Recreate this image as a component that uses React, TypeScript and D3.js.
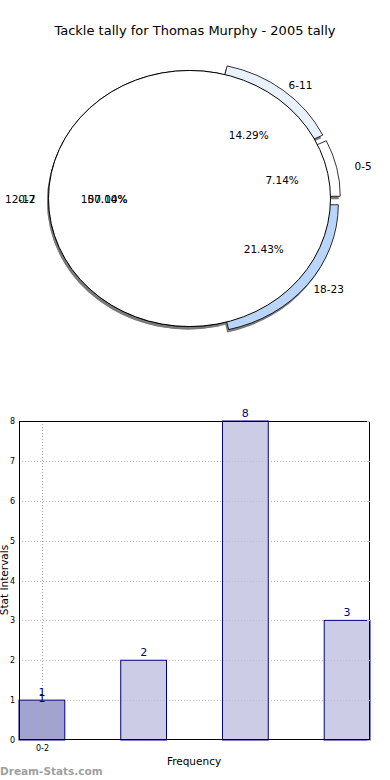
import React, { useEffect, useRef } from "react";
import * as d3 from "d3";

// pie data
const pieLabels = ["0-5", "6-11", "12-17", "18-23"];
const pieValues = [1, 2, 8, 3];
const pieColors = ["#ffffff", "#e9f1fd", "#d8d8d8", "#b9d6fa"];
const pieExplode = [10, 10, 0, 10];
// second pie drawn over the first (single slice, 100%)
const overlayLabels = ["0-2"];
const overlayValues = [1];

// bar data
const barTickLabels = ["0-2", "", "", ""];
const barValues = [1, 2, 8, 3];
const yTicks = [0, 1, 2, 3, 4, 5, 6, 7, 8];

const FONT = "DejaVu Sans, Verdana, sans-serif";

const App = () => {
  const svgRef = useRef<SVGSVGElement>(null);

  useEffect(() => {
    const svg = d3.select(svgRef.current);
    svg.selectAll("*").remove();

    const width = 390;

    svg.append("rect").attr("width", 390).attr("height", 780).attr("fill", "#fff");

    // Title
    svg.append("text")
      .attr("x", width / 2)
      .attr("y", 35)
      .attr("text-anchor", "middle")
      .style("font-family", FONT)
      .style("font-size", "13px")
      .text("Tackle tally for Thomas Murphy - 2005 tally");

    // ---------- Pie ----------
    const cx = 189.5;
    const cy = 198.5;
    const rx = 141;
    const ry = 128;
    const k = ry / rx;

    const pie = d3.pie<number>()
      .sort(null)
      .startAngle(Math.PI / 2)
      .endAngle(Math.PI / 2 - 2 * Math.PI);

    const arc = d3.arc<d3.PieArcDatum<number>>()
      .innerRadius(0)
      .outerRadius(rx);

    const slices = pie(pieValues);
    const overlay = pie(overlayValues);
    const total = d3.sum(pieValues);

    const mid = (d: d3.PieArcDatum<number>) => (d.startAngle + d.endAngle) / 2;
    const offset = (d: d3.PieArcDatum<number>, r: number) => [
      r * Math.sin(mid(d)),
      -r * Math.cos(mid(d)),
    ];

    const pieG = svg.append("g");

    // shadows
    const shadowDx = -1.5;
    const shadowDy = 3;
    slices.forEach((d, i) => {
      const [ox, oy] = offset(d, pieExplode[i]);
      pieG.append("path")
        .attr("d", arc(d))
        .attr("transform", `translate(${cx + ox + shadowDx},${cy + oy + shadowDy}) scale(1,${k})`)
        .attr("fill", "#7a7a7a");
    });
    overlay.forEach((d) => {
      pieG.append("path")
        .attr("d", arc(d))
        .attr("transform", `translate(${cx + shadowDx},${cy + shadowDy}) scale(1,${k})`)
        .attr("fill", "#7a7a7a");
    });

    // slices
    slices.forEach((d, i) => {
      const [ox, oy] = offset(d, pieExplode[i]);
      pieG.append("path")
        .attr("d", arc(d))
        .attr("transform", `translate(${cx + ox},${cy + oy}) scale(1,${k})`)
        .attr("fill", pieColors[i])
        .attr("stroke", "#000")
        .attr("stroke-width", 0.8)
        .attr("vector-effect", "non-scaling-stroke");
    });
    overlay.forEach((d) => {
      pieG.append("path")
        .attr("d", arc(d))
        .attr("transform", `translate(${cx},${cy}) scale(1,${k})`)
        .attr("fill", "#fff")
        .attr("stroke", "#000")
        .attr("stroke-width", 1)
        .attr("vector-effect", "non-scaling-stroke");
    });

    // labels on the far left side are right-aligned, the rest centred
    const label = (a: number, lrx: number, lry: number, t: string, shift: number) => {
      const leftSide = Math.sin(a) < -0.9;
      pieG.append("text")
        .attr("x", cx + lrx * Math.sin(a) + (leftSide ? shift : 0))
        .attr("y", cy - lry * Math.cos(a))
        .attr("text-anchor", leftSide ? "end" : "middle")
        .attr("dominant-baseline", "central")
        .style("font-family", FONT)
        .style("font-size", "10.5px")
        .text(t);
    };

    slices.forEach((d, i) => {
      const a = mid(d);
      const e = pieExplode[i];
      label(a, 95, 81, d3.format(".2f")((pieValues[i] / total) * 100) + "%", 33);
      label(a, rx + 29 + e * 0.8, ry + 17, pieLabels[i], 16);
    });
    overlay.forEach((d, i) => {
      const a = mid(d);
      label(a, 95, 81, d3.format(".2f")((overlayValues[i] / d3.sum(overlayValues)) * 100) + "%", 33);
      label(a, rx + 29, ry + 17, overlayLabels[i], 16);
    });

    // ---------- Bars ----------
    const left = 19;
    const right = 370;
    const top = 421;
    const bottom = 740;

    const x = d3.scaleBand<number>()
      .domain(barValues.map((_, i) => i))
      .range([left, right])
      .paddingInner(0.55)
      .paddingOuter(0);

    const y = d3.scaleLinear().domain([0, 8]).range([bottom, top]);

    const barG = svg.append("g");

    // bar fills
    barValues.forEach((v, i) => {
      barG.append("rect")
        .attr("x", x(i)!)
        .attr("y", y(v))
        .attr("width", x.bandwidth())
        .attr("height", y(0) - y(v))
        .attr("fill", i === 0 ? "#a3a3cf" : "#cccce6");
    });

    // horizontal grid
    yTicks.slice(1, -1).forEach((t) => {
      barG.append("line")
        .attr("x1", left)
        .attr("x2", right)
        .attr("y1", Math.round(y(t)) + 0.5)
        .attr("y2", Math.round(y(t)) + 0.5)
        .attr("stroke", "#bbb")
        .attr("stroke-dasharray", "1,2");
    });

    // vertical grid at labelled ticks
    barTickLabels.forEach((l, i) => {
      if (!l) return;
      const xc = Math.round(x(i)! + x.bandwidth() / 2) + 0.5;
      barG.append("line")
        .attr("x1", xc)
        .attr("x2", xc)
        .attr("y1", top)
        .attr("y2", bottom)
        .attr("stroke", "#aaa")
        .attr("stroke-dasharray", "1,2");
      barG.append("text")
        .attr("x", xc)
        .attr("y", bottom + 11)
        .attr("text-anchor", "middle")
        .style("font-family", FONT)
        .style("font-size", "8px")
        .text(l);
    });

    // bar outlines
    barValues.forEach((v, i) => {
      barG.append("rect")
        .attr("x", x(i)!)
        .attr("y", y(v))
        .attr("width", x.bandwidth())
        .attr("height", y(0) - y(v))
        .attr("fill", "none")
        .attr("stroke", "#000080")
        .attr("stroke-width", 1);
    });

    // frame
    barG.append("rect")
      .attr("x", left + 0.5)
      .attr("y", top + 0.5)
      .attr("width", right - left - 1)
      .attr("height", bottom - top - 1)
      .attr("fill", "none")
      .attr("stroke", "#000")
      .attr("stroke-width", 1);

    // y ticks + labels
    yTicks.forEach((t) => {
      barG.append("text")
        .attr("x", 15)
        .attr("y", y(t) + 3)
        .attr("text-anchor", "end")
        .style("font-family", FONT)
        .style("font-size", "8px")
        .text(t);
      barG.append("line")
        .attr("x1", right - 3)
        .attr("x2", right)
        .attr("y1", Math.round(y(t)) + 0.5)
        .attr("y2", Math.round(y(t)) + 0.5)
        .attr("stroke", "#bbb");
    });

    // value labels
    barValues.forEach((v, i) => {
      const xc = x(i)! + x.bandwidth() / 2;
      barG.append("text")
        .attr("x", xc)
        .attr("y", y(v) - 4)
        .attr("text-anchor", "middle")
        .style("font-family", FONT)
        .style("font-size", "11px")
        .attr("fill", "#000080")
        .text(v);
      if (i === 0) {
        // duplicated label drawn slightly lower
        barG.append("text")
          .attr("x", xc)
          .attr("y", y(v) + 2)
          .attr("text-anchor", "middle")
          .style("font-family", FONT)
          .style("font-size", "11px")
          .attr("fill", "#000080")
          .text(v);
      }
    });

    // axis titles
    svg.append("text")
      .attr("x", 194)
      .attr("y", 765)
      .attr("text-anchor", "middle")
      .style("font-family", FONT)
      .style("font-size", "10.5px")
      .text("Frequency");

    svg.append("text")
      .attr("transform", `translate(8,580) rotate(-90)`)
      .attr("text-anchor", "middle")
      .style("font-family", FONT)
      .style("font-size", "10.5px")
      .text("Stat Intervals");

    // watermark
    svg.append("text")
      .attr("x", 0)
      .attr("y", 775)
      .style("font-family", FONT)
      .style("font-size", "10.5px")
      .style("font-weight", "bold")
      .attr("fill", "#a0a0a0")
      .text("Dream-Stats.com");
  }, []);

  return (
    <svg
      ref={svgRef}
      width={390}
      height={780}
      style={{ position: "absolute", left: 0, top: 0, display: "block" }}
    />
  );
};

export default App;
